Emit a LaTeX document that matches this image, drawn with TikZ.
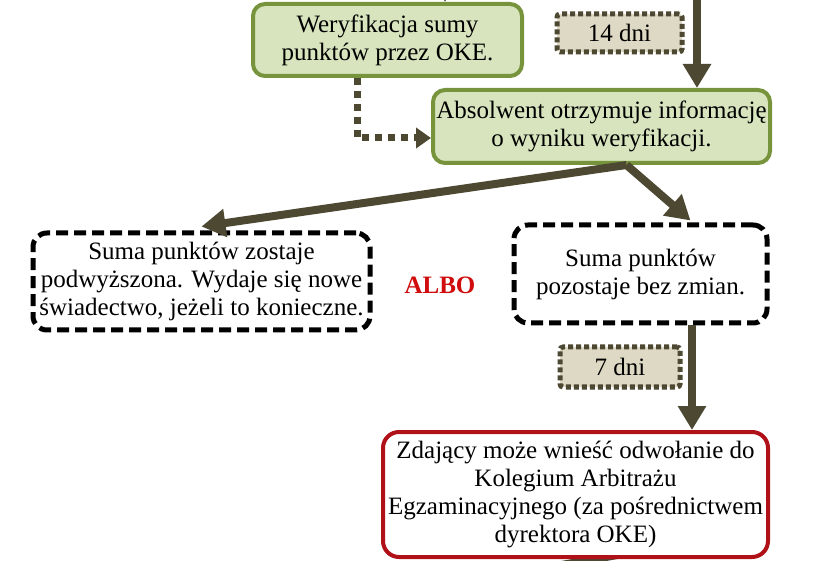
\documentclass[tikz,border=0pt]{standalone}
\usepackage{fontspec}
\setmainfont{Liberation Serif}
\usetikzlibrary{arrows.meta,calc}
\definecolor{gfill}{HTML}{D7E4BD}
\definecolor{gline}{HTML}{77933C}
\definecolor{arr}{HTML}{4D4832}
\definecolor{dfill}{HTML}{DDD9C4}
\definecolor{rline}{HTML}{B01018}
\definecolor{albo}{HTML}{D00C0C}
\begin{document}
\begin{tikzpicture}[x=1pt,y=-1pt,
  every node/.style={font=\fontsize{25}{28}\selectfont, align=center, inner sep=0pt},
  greenbox/.style={draw=gline, fill=gfill, line width=4pt, rounded corners=12pt},
  dashbox/.style={draw=black, fill=white, line width=5pt, rounded corners=14pt, dash pattern=on 12pt off 6pt},
  daybox/.style={draw=arr, fill=dfill, line width=5pt, rounded corners=3pt, dash pattern=on 5pt off 3pt},
  redbox/.style={draw=rline, fill=white, line width=4pt, rounded corners=16pt},
  bigarrow/.style={draw=arr, line width=8pt, -{Triangle[width=27pt,length=24pt]}},
  dotarrow/.style={draw=arr, line width=7pt, dash pattern=on 7pt off 6pt, -{Triangle[width=20pt,length=15pt]}}
]
\clip (0,0) rectangle (833,561);
\fill[white] (0,0) rectangle (833,561);

\node[greenbox, minimum width=269pt, minimum height=72pt] (box1) at (387.5,40) {Weryfikacja sumy\\punktów przez OKE.};
\node[greenbox, minimum width=337pt, minimum height=73pt] (box2) at (601.5,126.5) {Absolwent otrzymuje informację\\o wyniku weryfikacji.};
\node[daybox, minimum width=125pt, minimum height=38pt] (d14) at (619.5,33) {14 dni};

\coordinate (topin) at (697,-20);
\coordinate (topin1) at (445,-40);
\draw[bigarrow] (topin) -- (topin |- box2.north);
\draw[bigarrow] (topin1) -- (topin1 |- box1.north);

\draw[dotarrow] (box1.south -| 357,0) |- ($(box2.west)+(0,11.5)$);

\node[dashbox, minimum width=337pt, minimum height=97pt] (left) at (201.5,281.5) {Suma punktów zostaje\\podwyższona. Wydaje się nowe\\świadectwo, jeżeli to konieczne.};
\node[dashbox, minimum width=253pt, minimum height=98pt] (right) at (640.5,274) {Suma punktów\\pozostaje bez zmian.};
\node[font=\fontsize{25}{28}\selectfont\bfseries, text=albo] (albo) at (440,285) {ALBO};

\coordinate (split) at ($(box2.south)+(25,0)$);
\draw[bigarrow] (split) -- ($(left.north)+(0,-4)$);
\draw[bigarrow] (split) -- ($(right.north)+(50,-2)$);

\coordinate (exit) at (300,612);
\draw[draw=arr, line width=8pt] (645,550) -- (exit);
\node[redbox, minimum width=385pt, minimum height=125pt] (red) at (575.5,494.5) {Zdający może wnieść odwołanie do\\Kolegium Arbitrażu\\Egzaminacyjnego (za pośrednictwem\\dyrektora OKE)};

\draw[bigarrow] (692,0 |- right.south) -- (692,0 |- red.north);
\node[daybox, minimum width=120pt, minimum height=40pt] (d7) at (620,367) {7 dni};
\end{tikzpicture}
\end{document}
